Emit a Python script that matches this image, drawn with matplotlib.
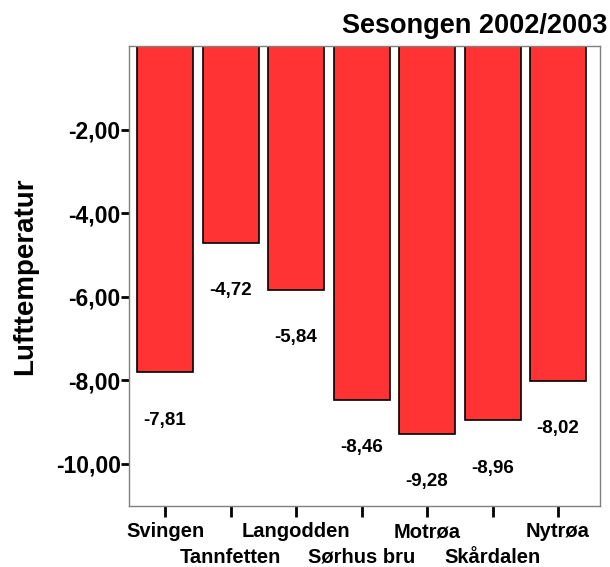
import matplotlib
matplotlib.use("Agg")
import matplotlib.pyplot as plt
from matplotlib.ticker import FuncFormatter

# data
stations = ["Svingen", "Tannfetten", "Langodden", "Sørhus bru", "Motrøa", "Skårdalen", "Nytrøa"]
temps = [-7.81, -4.72, -5.84, -8.46, -9.28, -8.96, -8.02]
yticks = [-2, -4, -6, -8, -10]

plt.rcParams["font.family"] = ["Liberation Sans", "DejaVu Sans"]
plt.rcParams["font.weight"] = "bold"

fig = plt.figure(figsize=(6.10, 5.67), dpi=100)
ax = fig.add_axes([0.2115, 0.108, 0.772, 0.811])

x = list(range(len(stations)))
ax.bar(x, temps, width=0.855, color="#ff3333", edgecolor="black", linewidth=1.2)

for xi, v in zip(x, temps):
    ax.text(xi, v - 1.14, f"{v:.2f}".replace(".", ","), ha="center", va="center",
            fontsize=13.5, fontweight="bold")

ax.set_xlim(-0.55, 6.64)
ax.set_ylim(-11, 0)

ax.set_yticks(yticks)
ax.yaxis.set_major_formatter(FuncFormatter(lambda v, p: f"{v:.2f}".replace(".", ",")))
ax.tick_params(axis="y", length=6, width=2, pad=0, labelsize=16.5, color="black")

# labels alternate between two rows: even ones on the ticks, odd ones one row lower
ax.set_xticks(x)
ax.set_xticklabels([s if i % 2 == 0 else "" for i, s in enumerate(stations)])
ax.tick_params(axis="x", length=8, width=2, pad=4, labelsize=14.5, color="black")
trans = ax.get_xaxis_transform()
for i, s in enumerate(stations):
    if i % 2 == 1:
        ax.text(i, -0.1117, s, transform=trans, ha="center", va="center",
                fontsize=14.5, fontweight="bold", clip_on=False)
for lab in ax.get_xticklabels() + ax.get_yticklabels():
    lab.set_fontweight("bold")

for sp in ax.spines.values():
    sp.set_color("#808080")
    sp.set_linewidth(1)

ax.set_ylabel("Lufttemperatur", fontsize=20, fontweight="bold")
ax.yaxis.set_label_coords(-0.193, 0.5)

fig.text(0.995, 1 - 26 / 567, "Sesongen 2002/2003", ha="right", va="center",
         fontsize=19.5, fontweight="bold")

fig.savefig("out.png", dpi=100)
